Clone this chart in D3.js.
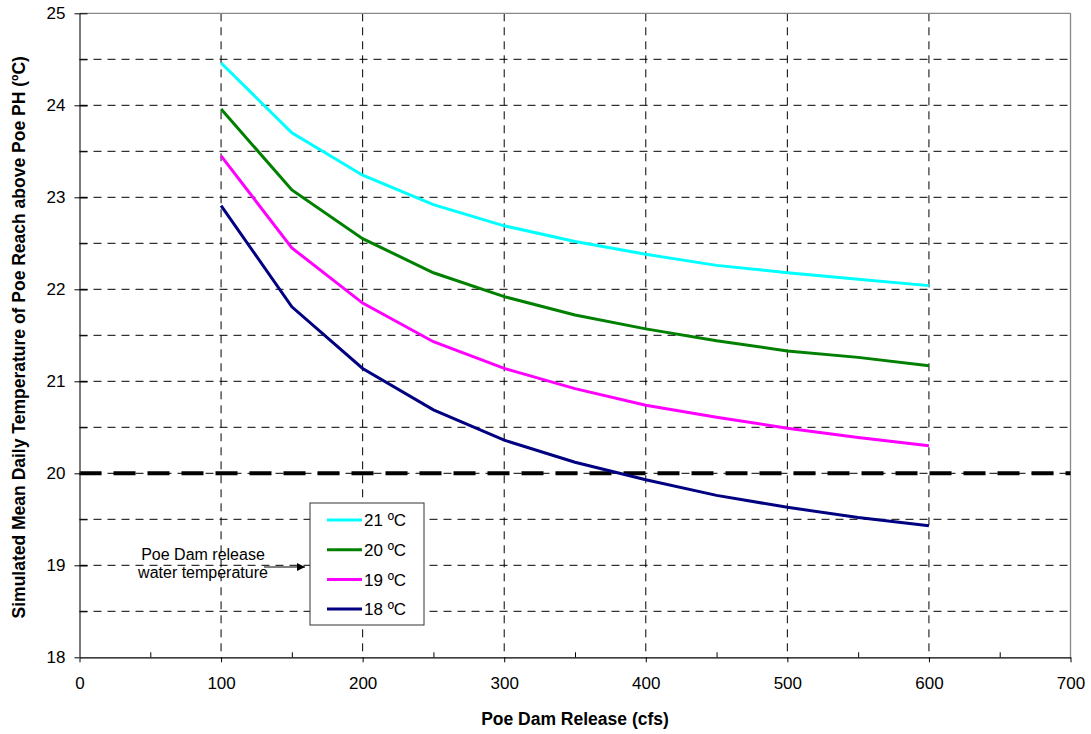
<!DOCTYPE html>
<html><head><meta charset="utf-8">
<script src="https://cdn.jsdelivr.net/npm/d3@7"></script>
<style>body{margin:0;background:#fff;} svg{display:block;font-family:"Liberation Sans",Arial,sans-serif;}</style>
</head><body>
<svg id="c" width="1091" height="734"></svg>
<script>
const releases = [100,150,200,250,300,350,400,450,500,550,600];
const seriesNames = ["21 ºC","20 ºC","19 ºC","18 ºC"];
const seriesColors = ["#00ffff","#008000","#ff00ff","#000080"];
const temp21 = [24.46,23.70,23.24,22.92,22.69,22.52,22.38,22.26,22.18,22.11,22.04];
const temp20 = [23.96,23.08,22.55,22.18,21.92,21.72,21.57,21.44,21.33,21.26,21.17];
const temp19 = [23.45,22.45,21.85,21.43,21.14,20.92,20.74,20.61,20.49,20.39,20.30];
const temp18 = [22.91,21.81,21.14,20.69,20.36,20.12,19.93,19.76,19.63,19.52,19.43];
const xTicks = [0,100,200,300,400,500,600,700];
const yTicks = [18,19,20,21,22,23,24,25];
const releaseTemp = 20;

const svg = d3.select("#c");
const L=79.5, R=1070.5, T=13.3, B=657.3;
const x = d3.scaleLinear().domain([0,700]).range([L,R]);
const y = d3.scaleLinear().domain([18,25]).range([B,T]);
const FONT = "Liberation Sans, Arial, sans-serif";

// gridlines
const hGrid = d3.range(18.5,25,0.5);
svg.append("g").selectAll("line").data(hGrid).join("line")
  .attr("x1",L).attr("x2",R).attr("y1",d=>y(d)).attr("y2",d=>y(d))
  .attr("stroke","#000").attr("stroke-width",1).attr("stroke-dasharray","8,6");
svg.append("g").selectAll("line").data(xTicks.slice(1,-1)).join("line")
  .attr("x1",d=>x(d)).attr("x2",d=>x(d)).attr("y1",T).attr("y2",B)
  .attr("stroke","#000").attr("stroke-width",1).attr("stroke-dasharray","8,6");

// frame top/right
svg.append("line").attr("x1",L).attr("x2",R).attr("y1",T).attr("y2",T).attr("stroke","#888").attr("stroke-width",1.3);
svg.append("line").attr("x1",R).attr("x2",R).attr("y1",T).attr("y2",B).attr("stroke","#888").attr("stroke-width",1.3);

// thick dashed release line
svg.append("line").attr("x1",L).attr("x2",R).attr("y1",y(releaseTemp)).attr("y2",y(releaseTemp))
  .attr("stroke","#000").attr("stroke-width",4).attr("stroke-dasharray","22,12");

// axes
const xAxis = d3.axisBottom(x).tickValues(xTicks).tickSize(5).tickSizeOuter(0).tickPadding(15).tickFormat(d3.format("d"));
const gx = svg.append("g").attr("transform",`translate(0,${B})`).call(xAxis);
const xMinor = d3.axisBottom(x).tickValues(d3.range(50,700,100)).tickSize(-5).tickFormat("").tickSizeOuter(0);
const gx2 = svg.append("g").attr("transform",`translate(0,${B})`).call(xMinor);
gx2.select(".domain").remove();
const yAxis = d3.axisLeft(y).tickValues(yTicks).tickSize(5).tickSizeOuter(0).tickPadding(9).tickFormat(d3.format("d"));
const gy = svg.append("g").attr("transform",`translate(${L},0)`).call(yAxis);
const yMinor = d3.axisLeft(y).tickValues(d3.range(18.5,25,0.5)).tickSize(-8).tickFormat("").tickSizeOuter(0);
const gy2 = svg.append("g").attr("transform",`translate(${L},0)`).call(yMinor);
gy2.select(".domain").remove();
const yInner = d3.axisLeft(y).tickValues(yTicks.slice(1)).tickSize(-8).tickFormat("").tickSizeOuter(0);
const gy3 = svg.append("g").attr("transform",`translate(${L},0)`).call(yInner);
gy3.select(".domain").remove();
[gx,gy,gx2,gy2,gy3].forEach(g=>{
  g.selectAll("text").attr("font-size",17).attr("fill","#000").attr("font-family",FONT);
  g.selectAll("line").attr("stroke","#000");
  g.select(".domain").attr("stroke","#000").attr("stroke-width",1.3);
});
gy.select(".domain").attr("stroke","#333");

// series
const allSeries = [temp21,temp20,temp19,temp18];
const line = d3.line().x((d,i)=>x(releases[i])).y(d=>y(d));
svg.append("g").selectAll("path").data(allSeries).join("path")
  .attr("d",line).attr("fill","none")
  .attr("stroke",(d,i)=>seriesColors[i]).attr("stroke-width",3);

// titles
svg.append("text").attr("x",(L+R)/2).attr("y",725).attr("text-anchor","middle")
  .attr("font-size",17.5).attr("font-weight","bold").text("Poe Dam Release (cfs)");
svg.append("text").attr("transform",`translate(25,${(T+B)/2+2}) rotate(-90)`).attr("text-anchor","middle")
  .attr("font-size",17.5).attr("font-weight","bold")
  .text("Simulated Mean Daily Temperature of Poe Reach above Poe PH (ºC)");

// legend
const lg = svg.append("g");
lg.append("rect").attr("x",310).attr("y",503).attr("width",114).attr("height",122)
  .attr("fill","#fff").attr("stroke","#333").attr("stroke-width",1);
seriesNames.forEach((n,i)=>{
  const yy = 520 + i*29.7;
  lg.append("line").attr("x1",327).attr("x2",362).attr("y1",yy).attr("y2",yy)
    .attr("stroke",seriesColors[i]).attr("stroke-width",3);
  lg.append("text").attr("x",364).attr("y",yy).attr("dy","0.36em").attr("font-size",17).text(n);
});

// annotation
svg.append("text").attr("x",203).attr("y",560).attr("text-anchor","middle").attr("font-size",16).text("Poe Dam release");
svg.append("text").attr("x",203).attr("y",578).attr("text-anchor","middle").attr("font-size",16).text("water temperature");
svg.append("defs").append("marker").attr("id","ah").attr("viewBox","0 0 10 10").attr("refX",10).attr("refY",5)
  .attr("markerWidth",10).attr("markerHeight",8).attr("markerUnits","userSpaceOnUse").attr("orient","auto")
  .append("path").attr("d","M0,0L10,5L0,10Z").attr("fill","#000");
svg.append("line").attr("x1",264).attr("x2",305).attr("y1",567).attr("y2",567)
  .attr("stroke","#000").attr("stroke-width",1.2).attr("marker-end","url(#ah)");
</script>
</body></html>
